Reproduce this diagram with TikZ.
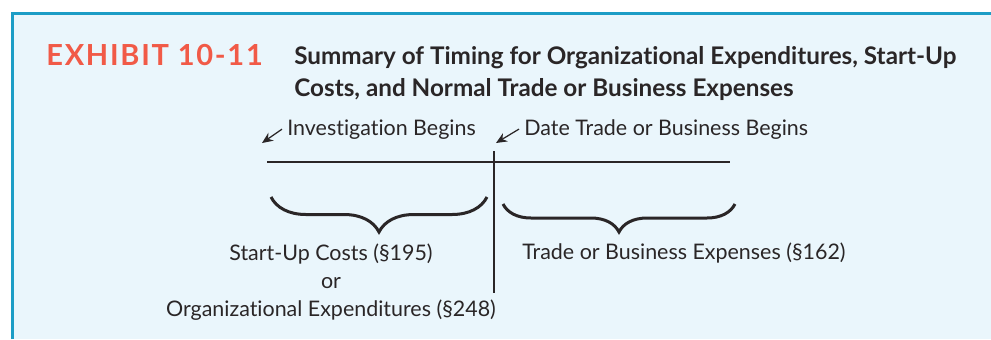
\documentclass[tikz,border=0pt]{standalone}
\usepackage{fontspec}
\setmainfont[Ligatures=NoCommon]{Lato}
\usepackage{xcolor}
\usetikzlibrary{arrows.meta, positioning, decorations.pathreplacing}

\definecolor{exhibitred}{HTML}{F15A47}
\definecolor{framecyan}{HTML}{1C9DC6}
\definecolor{panelblue}{HTML}{EAF6FC}
\definecolor{inkgray}{HTML}{2A2627}

\begin{document}
\begin{tikzpicture}[
    x=0.2mm, y=-0.2mm,
    every node/.style={inner sep=0pt, text=inkgray},
    plainlabel/.style={
        font=\fontsize{12.2}{14}\selectfont,
        anchor=base west
    },
    centerlabel/.style={
        font=\fontsize{12.2}{16}\selectfont,
        align=center
    },
    headline/.style={
        font=\fontsize{13.8}{18}\selectfont\bfseries,
        anchor=base west
    },
    timeline/.style={line width=0.5mm, draw=inkgray},
    pointer/.style={-{Stealth[length=2.2mm, width=1.9mm]}, line width=0.25mm, draw=inkgray},
    curly/.style={decorate, line width=0.6mm, draw=inkgray,
        decoration={brace, mirror, amplitude=#1}}
]

% panel
\useasboundingbox (0,0) rectangle (991,339);
\fill[panelblue] (12,13) rectangle (991,339);
\draw[framecyan, line width=0.6mm] (12,339) -- (12,13) -- (991,13);

% heading
\node[anchor=base west, text=exhibitred,
      font=\fontsize{16.5}{20}\selectfont\bfseries\addfontfeature{LetterSpace=6}]
      (exhibit) at (46,65) {EXHIBIT 10-11};
\node[headline] (heading1) at (294,64) {Summary of Timing for Organizational Expenditures, Start-Up};
\node[headline] (heading2) at (294,96) {Costs, and Normal Trade or Business Expenses};

% timeline
\coordinate (lineL) at (267,162);
\coordinate (lineR) at (730,162);
\coordinate (splitT) at (494,151);
\coordinate (splitB) at (494,293);
\draw[timeline] (lineL) -- (lineR);
\draw[timeline] (splitT) -- (splitB);

% event labels
\node[plainlabel] (invest) at (287,135) {Investigation Begins};
\node[plainlabel] (tradebegin) at (524,135) {Date Trade or Business Begins};
\coordinate (investtip) at (262,143);
\coordinate (tradetip) at (496,143);
\draw[pointer] ([xshift=-1mm]invest.west) -- (investtip);
\draw[pointer] ([xshift=-1mm]tradebegin.west) -- (tradetip);

% periods
\coordinate (startA) at (271,197);
\coordinate (startB) at (487,197);
\coordinate (tradeA) at (503,204);
\coordinate (tradeB) at (735,204);
\draw[curly=7mm] (startA) -- (startB);
\draw[curly=5.6mm] (tradeA) -- (tradeB);

\node[centerlabel] (startup) at (331,282) {Start-Up Costs (§195)\\or\\Organizational Expenditures (§248)};
\node[plainlabel] (tradeexp) at (522,259) {Trade or Business Expenses (§162)};

\end{tikzpicture}
\end{document}
